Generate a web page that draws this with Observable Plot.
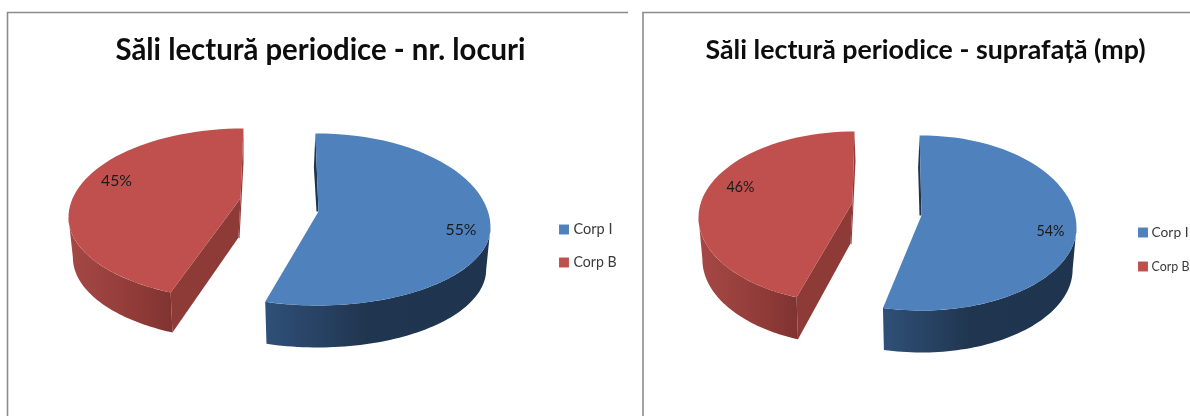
<!DOCTYPE html>
<html>
<head>
<meta charset="utf-8">
<style>html,body{margin:0;padding:0;background:#fff;overflow:hidden}</style>
<script src="https://cdn.jsdelivr.net/npm/d3@7"></script>
<script src="https://cdn.jsdelivr.net/npm/@observablehq/plot@0.6"></script>
</head>
<body>
<div id="chart"></div>
<script>
const categories = ["Corp I", "Corp B"];
const seatShares = [55, 45];
const areaShares = [54, 46];
const chartTitles = ["Săli lectură periodice - nr. locuri", "Săli lectură periodice - suprafață (mp)"];
const sliceColors = ["#4f81bd", "#c0504d"];

// Layout of each 3D pie: the slice sweeps come from the shares above.
const panels = [
  {
    shares: seatShares, title: chartTitles[0], titleX: 320, titleLen: 410, titleSize: 31,
    frame: {x: 7, y: 12, right: 628},
    blue: {cx: 317, cy: 227, rx: 173, ryT: 94, ryB: 78, apex: [318, 211], depth: 42, t0: -0.7, dEnd: -0.4, sliver: [-1.5, 34]},
    red: {cx: 243, cy: 217, rx: 175, ryT: 89, ryB: 82.5, apex: [240, 198], depth: 40, dStart: 6.6, sliver: [0, 34]},
    labels: [[460.5, 229], [116, 180]], labelLen: 31,
    legend: {x: 563.5, y: [229, 262], textX: 573, lens: [39, 43], size: 15.5}
  },
  {
    shares: areaShares, title: chartTitles[1], titleX: 925, titleLen: 440, titleSize: 27,
    frame: {x: 642.5, y: 12, right: 1190},
    blue: {cx: 921, cy: 227, rx: 155, ryT: 92, ryB: 83, apex: [921, 215], depth: 42, t0: -0.7, dEnd: 0, sliver: [-1.5, 32]},
    red: {cx: 854, cy: 217, rx: 156, ryT: 86, ryB: 86, apex: [852, 202], depth: 42, dStart: 7.4, sliver: [1, 30]},
    labels: [[1050, 230], [740, 186]], labelLen: 28,
    legend: {x: 1142.5, y: [232, 266], textX: 1151, lens: [37, 38], size: 13}
  }
];

const rim = (g, deg, depth = 0, k = 1) => {
  const a = deg * Math.PI / 180, c = Math.cos(a);
  return [g.cx + k * g.rx * Math.sin(a), g.cy - (c > 0 ? g.ryT : g.ryB) * c + depth];
};
const sweep = (g, from, to, depth = 0, k = 1) => d3.range(0, 61).map(i => rim(g, from + (to - from) * i / 60, depth, k));

const K = 0.975;
const poly = (pts, fill) => Plot.line(pts, {x: d => d[0], y: d => d[1], fill, stroke: "none", curve: "linear-closed"});

// Fit a text mark's strings to the widths measured on the picture.
const fitted = (lenOf) => ({
  render(index, scales, values, dimensions, context, next) {
    const g = next(index, scales, values, dimensions, context);
    d3.select(g).selectAll("text").each(function (_, i) {
      this.setAttribute("textLength", lenOf(i));
      this.setAttribute("lengthAdjust", "spacingAndGlyphs");
    });
    return g;
  }
});

const marks = [];
marks.push(() => {
  const defs = d3.create("svg:defs");
  const grad = (id, stops) => {
    const g = defs.append("linearGradient").attr("id", id).attr("x1", 0).attr("x2", 1).attr("y1", 0).attr("y2", 0);
    stops.forEach(([o, c]) => g.append("stop").attr("offset", o).attr("stop-color", c));
  };
  grad("blueSide", [[0, "#2f5078"], [0.45, "#203650"], [1, "#1f344e"]]);
  grad("redSide", [[0, "#a64845"], [0.7, "#8e3a37"], [1, "#7f3331"]]);
  return defs.node();
});

for (const p of panels) {
  const endBlue = p.shares[0] / (p.shares[0] + p.shares[1]) * 360;
  const b = p.blue, r = p.red;
  const bEnd = endBlue + b.dEnd, rStart = endBlue + r.dStart;

  // blue slice
  const bTop = rim(b, b.t0);
  marks.push(poly([bTop, [bTop[0] + b.sliver[0], bTop[1] + b.sliver[1]], [b.apex[0] - 2, b.apex[1]], b.apex], "#1f344e"));
  marks.push(poly([...sweep(b, 90, bEnd), ...sweep(b, bEnd, 90, b.depth, K)], "url(#blueSide)"));
  marks.push(poly([...sweep(b, b.t0, bEnd), b.apex], sliceColors[0]));

  // red slice
  const rTop = rim(r, 360), rTip = rim(r, rStart), rTipD = rim(r, rStart, r.depth, K);
  marks.push(poly([rTop, [rTop[0] + r.sliver[0], rTop[1] + r.sliver[1]], [r.apex[0] - 1, r.apex[1] + r.depth], [r.apex[0] - 2, r.apex[1] + r.depth - 1], r.apex], "#8e3a37"));
  marks.push(poly([r.apex, rTip, rTipD, [r.apex[0] - 2, r.apex[1] + r.depth - 1]], "#8e3a37"));
  marks.push(poly([...sweep(r, 270, rStart), ...sweep(r, rStart, 270, r.depth, K)], "url(#redSide)"));
  marks.push(poly([...sweep(r, rStart, 360), r.apex], sliceColors[1]));

  // frame
  marks.push(Plot.ruleX([p.frame.x], {y1: p.frame.y, y2: 416, stroke: "#8c8c8c", strokeWidth: 1.6}));
  marks.push(Plot.ruleY([p.frame.y], {x1: p.frame.x, x2: p.frame.right, stroke: "#8c8c8c", strokeWidth: 1.6}));

  // title
  marks.push(Plot.text([p.title], {
    x: p.titleX, y: 50, text: d => d, fontFamily: "Lato", fontWeight: 700, fontSize: p.titleSize, fill: "#0d0d0d",
    textAnchor: "middle", lineAnchor: "middle", ...fitted(() => p.titleLen)
  }));

  // percentage labels
  marks.push(Plot.text(p.shares.map((v, i) => ({v, at: p.labels[i]})), {
    x: d => d.at[0], y: d => d.at[1], text: d => d.v + "%", fontFamily: "Lato", fontSize: 16,
    fill: "#1a1a1a", textAnchor: "middle", lineAnchor: "middle", ...fitted(() => p.labelLen)
  }));

  // legend
  const leg = categories.map((name, i) => ({name, color: sliceColors[i], y: p.legend.y[i]}));
  marks.push(Plot.dot(leg, {x: p.legend.x, y: "y", symbol: "square", r: 5.6, fill: "color", stroke: "none"}));
  marks.push(Plot.text(leg, {
    x: p.legend.textX, y: "y", text: "name", fontFamily: "Lato", fontSize: p.legend.size, fill: "#3a3a3a",
    textAnchor: "start", lineAnchor: "middle", ...fitted(i => p.legend.lens[i])
  }));
}

const chart = Plot.plot({
  width: 1190, height: 416, margin: 0,
  x: {domain: [0, 1190], range: [0, 1190], axis: null},
  y: {domain: [0, 416], range: [0, 416], axis: null},
  color: {type: "identity"},
  style: {background: "#fff", overflow: "hidden", filter: "blur(0.4px)"},
  marks
});
document.getElementById("chart").append(chart);
</script>
</body>
</html>
